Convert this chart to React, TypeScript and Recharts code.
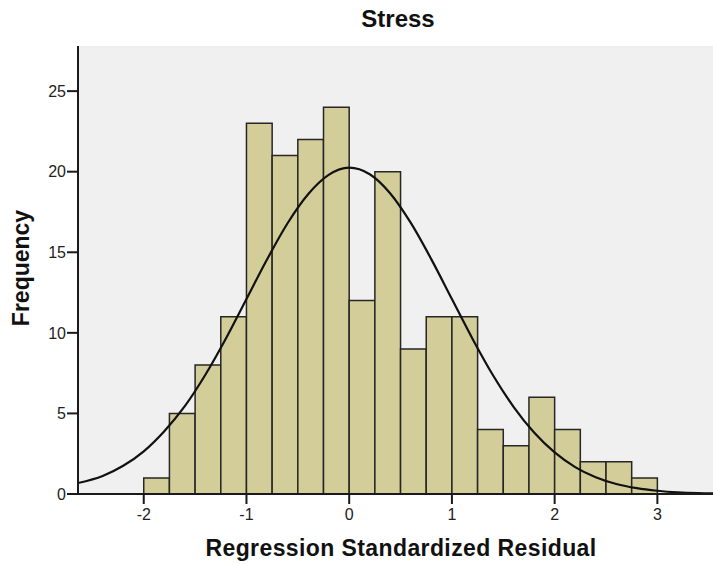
import React from "react";
import {
  ComposedChart,
  Line,
  XAxis,
  YAxis,
  CartesianGrid,
  ReferenceArea,
} from "recharts";

// Histogram of regression standardized residuals (bin width 0.25)
const binStarts = [
  -2.0, -1.75, -1.5, -1.25, -1.0, -0.75, -0.5, -0.25, 0.0, 0.25, 0.5, 0.75,
  1.0, 1.25, 1.5, 1.75, 2.0, 2.25, 2.5, 2.75,
];
const binCounts = [1, 5, 8, 11, 23, 21, 22, 24, 12, 20, 9, 11, 11, 4, 3, 6, 4, 2, 2, 1];
const binWidth = 0.25;

// Normal curve overlay, sampled along the residual axis
const curveX = [
  -2.64, -2.4, -2.2, -2.0, -1.8, -1.6, -1.4, -1.2, -1.0, -0.8, -0.6, -0.4, -0.2,
  0.0, 0.2, 0.4, 0.6, 0.8, 1.0, 1.2, 1.4, 1.6, 1.8, 2.0, 2.2, 2.4, 2.6, 2.8,
  3.0, 3.2, 3.4, 3.6,
];
const curveY = [
  0.68, 1.12, 1.75, 2.65, 3.9, 5.45, 7.4, 9.65, 12.1, 14.55, 16.8, 18.6, 19.8,
  20.25, 19.84, 18.65, 16.82, 14.56, 12.1, 9.64, 7.37, 5.41, 3.81, 2.58, 1.67,
  1.04, 0.62, 0.36, 0.2, 0.1, 0.05, 0.03,
];

const xTicks = [-2, -1, 0, 1, 2, 3];
const yTicks = [0, 5, 10, 15, 20, 25];

const curveData = curveX.map((x, i) => ({ x, density: curveY[i] }));

const FONT = '"Liberation Sans", Arial, Helvetica, sans-serif';

export default function App() {
  return (
    <div
      style={{
        position: "absolute",
        left: 0,
        top: 0,
        width: 713,
        height: 564,
        overflow: "hidden",
        background: "#ffffff",
      }}
    >
      <ComposedChart
        width={722}
        height={564}
        data={curveData}
        margin={{ top: 46, right: 3, bottom: 0, left: 0 }}
      >
        <CartesianGrid fill="#F0F0F0" horizontal={false} vertical={false} stroke="none" />
        <XAxis
          dataKey="x"
          type="number"
          domain={[-2.64, 3.6]}
          ticks={xTicks}
          allowDataOverflow
          height={70}
          tickSize={10}
          tickMargin={5}
          axisLine={{ stroke: "#1a1a1a", strokeWidth: 2 }}
          tickLine={{ stroke: "#1a1a1a", strokeWidth: 2 }}
          tick={{ fill: "#222", fontSize: 16, fontFamily: FONT }}
        />
        <XAxis
          xAxisId="top"
          orientation="top"
          dataKey="x"
          type="number"
          domain={[-2.64, 3.6]}
          height={0}
          tick={false}
          tickLine={false}
          axisLine={{ stroke: "#505050", strokeWidth: 2 }}
        />
        <YAxis
          type="number"
          domain={[0, 27.8]}
          ticks={yTicks}
          allowDataOverflow
          width={78}
          tickSize={11}
          tickMargin={1}
          axisLine={{ stroke: "#1a1a1a", strokeWidth: 2 }}
          tickLine={{ stroke: "#1a1a1a", strokeWidth: 2 }}
          tick={{ fill: "#222", fontSize: 16, fontFamily: FONT }}
        />
        {binStarts.map((start, i) => (
          <ReferenceArea
            key={start}
            x1={start}
            x2={start + binWidth}
            y1={0}
            y2={binCounts[i]}
            fill="#D3CE99"
            fillOpacity={1}
            stroke="#262626"
            strokeWidth={1.5}
          />
        ))}
        <Line
          dataKey="density"
          type="monotone"
          stroke="#111"
          strokeWidth={2.2}
          dot={false}
          activeDot={false}
          isAnimationActive={false}
        />
        <text
          x={398}
          y={27}
          textAnchor="middle"
          fontFamily={FONT}
          fontWeight="bold"
          fontSize={24}
          fill="#111"
        >
          Stress
        </text>
        <text
          x={401}
          y={556}
          textAnchor="middle"
          fontFamily={FONT}
          fontWeight="bold"
          fontSize={23}
          letterSpacing={0.4}
          fill="#111"
        >
          Regression Standardized Residual
        </text>
        <text
          x={29}
          y={268}
          transform="rotate(-90, 29, 268)"
          textAnchor="middle"
          fontFamily={FONT}
          fontWeight="bold"
          fontSize={23}
          fill="#111"
        >
          Frequency
        </text>
      </ComposedChart>
    </div>
  );
}
